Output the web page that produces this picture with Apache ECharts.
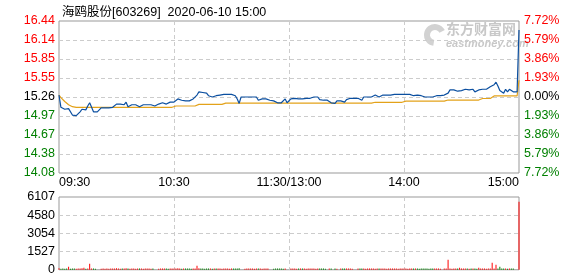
<!DOCTYPE html>
<html><head><meta charset="utf-8">
<script src="https://cdn.jsdelivr.net/npm/echarts@6/dist/echarts.min.js"></script>
<style>html,body{margin:0;padding:0;background:#fff}#c{width:578px;height:276px}</style>
</head><body><div id="c"></div>
<script>
const titleText = '海鸥股份[603269]  2020-06-10 15:00';
const timeLabels = ['09:30', '10:30', '11:30/13:00', '14:00', '15:00'];
const priceLabels = ['16.44', '16.14', '15.85', '15.55', '15.26', '14.97', '14.67', '14.38', '14.08'];
const pctLabels = ['7.72%', '5.79%', '3.86%', '1.93%', '0.00%', '1.93%', '3.86%', '5.79%', '7.72%'];
const volLabels = ['6107', '4580', '3054', '1527', '0'];
const basePrice = 15.26;
const priceMin = 14.08, priceMax = 16.44;
const pctMax = 7.72, pctStep = 1.93;
const volMax = 6107;

const prices = [
15.29,15.10,15.08,15.07,15.07,15.08,15.06,14.98,14.95,14.97,
14.97,15.03,15.07,15.09,15.06,15.12,15.17,15.17,15.03,15.03,
15.03,15.03,15.09,15.09,15.09,15.09,15.09,15.09,15.10,15.12,
15.15,15.15,15.15,15.12,15.14,15.18,15.11,15.14,15.14,15.14,
15.14,15.14,15.11,15.12,15.14,15.14,15.14,15.14,15.14,15.13,
15.12,15.12,15.15,15.17,15.17,15.18,15.15,15.15,15.18,15.18,
15.18,15.21,15.23,15.25,15.21,15.24,15.20,15.20,15.20,15.20,
15.23,15.23,15.29,15.34,15.33,15.33,15.33,15.32,15.28,15.29,
15.26,15.29,15.28,15.29,15.29,15.30,15.30,15.30,15.30,15.30,
15.30,15.28,15.28,15.23,15.16,15.26,15.26,15.26,15.26,15.26,
15.26,15.26,15.26,15.26,15.21,15.23,15.23,15.23,15.23,15.23,
15.21,15.20,15.20,15.20,15.17,15.17,15.17,15.17,15.23,15.17,
15.20,15.23,15.24,15.24,15.24,15.23,15.24,15.23,15.24,15.24,
15.24,15.24,15.24,15.26,15.26,15.26,15.22,15.21,15.21,15.21,
15.21,15.24,15.17,15.16,15.16,15.20,15.20,15.20,15.18,15.18,
15.22,15.24,15.24,15.24,15.24,15.24,15.24,15.21,15.21,15.26,
15.26,15.26,15.26,15.26,15.28,15.29,15.29,15.26,15.28,15.29,
15.29,15.29,15.29,15.29,15.29,15.30,15.30,15.30,15.30,15.30,
15.30,15.30,15.30,15.30,15.30,15.28,15.30,15.29,15.29,15.28,
15.28,15.26,15.26,15.26,15.26,15.26,15.28,15.28,15.28,15.28,
15.26,15.29,15.29,15.32,15.37,15.37,15.37,15.37,15.35,15.36,
15.36,15.36,15.38,15.36,15.37,15.34,15.38,15.34,15.32,15.37,
15.38,15.38,15.38,15.38,15.40,15.42,15.42,15.45,15.49,15.43,
15.36,15.33,15.32,15.38,15.34,15.38,15.36,15.34,15.34,15.34,
16.30
];

const avgPrices = [
15.29,15.25,15.22,15.19,15.16,15.14,15.12,15.11,15.10,15.10,
15.10,15.10,15.10,15.10,15.10,15.10,15.10,15.10,15.10,15.10,
15.10,15.10,15.10,15.10,15.10,15.10,15.10,15.10,15.10,15.10,
15.10,15.10,15.10,15.10,15.10,15.10,15.10,15.10,15.10,15.10,
15.10,15.10,15.10,15.10,15.10,15.10,15.10,15.10,15.10,15.10,
15.10,15.10,15.10,15.10,15.10,15.10,15.10,15.10,15.10,15.10,
15.10,15.12,15.12,15.12,15.12,15.12,15.12,15.12,15.12,15.12,
15.12,15.12,15.12,15.145,15.145,15.145,15.145,15.145,15.145,15.145,
15.145,15.145,15.145,15.145,15.145,15.145,15.145,15.165,15.165,15.165,
15.165,15.165,15.165,15.165,15.165,15.165,15.165,15.165,15.165,15.165,
15.165,15.165,15.165,15.165,15.165,15.165,15.165,15.165,15.165,15.165,
15.165,15.165,15.165,15.165,15.165,15.165,15.165,15.165,15.165,15.165,
15.165,15.165,15.165,15.165,15.165,15.165,15.165,15.165,15.165,15.165,
15.165,15.165,15.165,15.165,15.165,15.165,15.165,15.165,15.165,15.165,
15.165,15.165,15.165,15.165,15.165,15.165,15.165,15.165,15.165,15.165,
15.165,15.165,15.165,15.165,15.165,15.165,15.165,15.165,15.165,15.165,
15.165,15.165,15.165,15.165,15.165,15.178,15.178,15.178,15.178,15.178,
15.178,15.178,15.178,15.178,15.178,15.178,15.178,15.178,15.178,15.178,
15.195,15.195,15.195,15.195,15.195,15.195,15.195,15.195,15.195,15.195,
15.195,15.195,15.195,15.195,15.195,15.195,15.195,15.195,15.195,15.195,
15.195,15.195,15.195,15.213,15.213,15.213,15.213,15.213,15.213,15.213,
15.213,15.213,15.213,15.213,15.213,15.213,15.213,15.213,15.213,15.213,
15.237,15.237,15.237,15.237,15.237,15.237,15.237,15.276,15.276,15.276,
15.276,15.276,15.276,15.276,15.276,15.276,15.276,15.276,15.276,15.276,
15.52
];

const volumes = [
120,90,100,80,100,250,90,110,100,90,
100,110,120,170,90,100,500,100,110,90,
0,0,90,100,80,100,90,110,100,100,
120,100,90,100,110,120,100,90,100,100,
90,100,110,100,90,100,100,110,90,100,
0,0,90,100,110,100,100,90,110,100,
100,110,120,100,90,100,100,110,100,90,
100,110,330,120,100,100,90,110,100,100,
90,100,100,110,100,90,100,100,110,90,
100,100,110,100,120,0,0,90,100,110,
100,100,90,100,110,100,90,100,100,110,
0,0,90,100,100,110,100,90,110,0,
0,100,110,100,90,100,100,110,100,90,
100,100,110,100,90,100,100,110,100,90,
0,100,110,0,100,90,0,100,110,100,
100,110,100,90,0,0,100,110,100,100,
90,100,110,100,100,90,110,100,100,110,
100,90,100,110,100,100,110,90,100,100,
110,100,90,100,100,110,100,100,90,110,
100,100,110,90,100,100,110,100,100,90,
0,100,110,830,100,90,100,110,100,170,
100,100,110,100,90,100,110,100,90,170,
100,110,100,90,100,110,580,100,420,100,
250,100,110,100,90,100,110,100,0,0,
5700
];

const RED = '#ff0000', GREEN = '#008000', BLACK = '#000000';
const FONT = '"Liberation Sans", Arial, "Noto Sans CJK SC", sans-serif';

function tickIndexFromTop(v) {
  const k = Math.round((Number(v) + pctMax) / pctStep);
  return 8 - k;
}
function pctColor(v) {
  const t = tickIndexFromTop(v);
  return t < 4 ? RED : (t === 4 ? BLACK : GREEN);
}

let lastColor = RED;
const volData = volumes.map((v, i) => {
  const prev = i === 0 ? basePrice : prices[i - 1];
  if (prices[i] > prev) lastColor = RED;
  else if (prices[i] < prev) lastColor = GREEN;
  return { value: [i, v], itemStyle: { color: lastColor } };
});

const chart = echarts.init(document.getElementById('c'), null, { renderer: 'canvas' });
const dashed = { show: true, showMinLine: false, showMaxLine: false, lineStyle: { color: '#cccccc', type: [4, 3], width: 1 } };

chart.setOption({
  animation: false,
  backgroundColor: '#ffffff',
  title: {
    text: titleText, left: 57, top: 1,
    textStyle: { fontSize: 12.5, fontWeight: 'normal', color: '#000', fontFamily: FONT }
  },
  graphic: [
    { type: 'sector', z: 0, shape: { cx: 435, cy: 35, r: 11, r0: 5, startAngle: Math.PI * 0.55, endAngle: Math.PI * 1.85 }, style: { fill: '#d2d2d2' } },
    { type: 'text', z: 0, left: 446, top: 22, style: { text: '东方财富网', fill: '#c8c8c8', font: 'bold 14px "Noto Sans CJK SC"' } },
    { type: 'text', z: 0, left: 446, top: 38, style: { text: 'eastmoney.com', fill: '#c8c8c8', font: 'italic bold 11px "Liberation Sans"' } }
  ],
  grid: [
    { left: 59, top: 21, width: 460, height: 152, show: true, borderColor: '#999999', borderWidth: 1, backgroundColor: 'transparent' },
    { left: 59, top: 197, width: 460, height: 73, show: true, borderColor: '#999999', borderWidth: 1, backgroundColor: 'transparent' }
  ],
  xAxis: [
    {
      type: 'value', gridIndex: 0, min: 0, max: 240, interval: 60,
      axisLine: { show: false }, axisTick: { show: false },
      splitLine: dashed,
      axisLabel: {
        margin: 3, fontSize: 12.5, color: '#000', fontFamily: FONT,
        alignMinLabel: 'left', alignMaxLabel: 'right',
        formatter: v => timeLabels[Math.round(v / 60)]
      }
    },
    {
      type: 'value', gridIndex: 1, min: 0, max: 240, interval: 60,
      axisLine: { show: false }, axisTick: { show: false },
      splitLine: dashed, axisLabel: { show: false }
    }
  ],
  yAxis: [
    {
      type: 'value', gridIndex: 0, position: 'left', min: -pctMax, max: pctMax, interval: pctStep,
      axisLine: { show: false }, axisTick: { show: false },
      splitLine: dashed,
      axisLabel: {
        margin: 4, fontSize: 12.5, fontFamily: FONT,
        formatter: v => priceLabels[tickIndexFromTop(v)],
        color: v => pctColor(v)
      }
    },
    {
      type: 'value', gridIndex: 0, position: 'right', min: -pctMax, max: pctMax, interval: pctStep,
      axisLine: { show: false }, axisTick: { show: false }, splitLine: { show: false },
      axisLabel: {
        margin: 5, fontSize: 12.5, fontFamily: FONT,
        formatter: v => pctLabels[tickIndexFromTop(v)],
        color: v => pctColor(v)
      }
    },
    {
      type: 'value', gridIndex: 0, min: priceMin, max: priceMax, show: false,
      splitLine: { show: false }
    },
    {
      type: 'value', gridIndex: 1, position: 'left', min: 0, max: volMax, interval: volMax / 4,
      axisLine: { show: false }, axisTick: { show: false },
      splitLine: dashed,
      axisLabel: {
        margin: 4, fontSize: 12.5, fontFamily: FONT, color: '#000',
        formatter: v => volLabels[4 - Math.round(Number(v) / (volMax / 4))]
      }
    }
  ],
  series: [
    {
      type: 'line', name: 'avg', xAxisIndex: 0, yAxisIndex: 2, z: 3,
      showSymbol: false, symbol: 'none',
      lineStyle: { color: '#e3a21a', width: 1.2 },
      data: avgPrices.map((p, i) => [i, p])
    },
    {
      type: 'line', name: 'price', xAxisIndex: 0, yAxisIndex: 2, z: 4,
      showSymbol: false, symbol: 'none',
      lineStyle: { color: '#0b4fa0', width: 1.2 },
      data: prices.map((p, i) => [i, p])
    },
    {
      type: 'bar', name: 'volume', xAxisIndex: 1, yAxisIndex: 3,
      barWidth: 1, data: volData
    }
  ]
});
</script>
</body></html>
